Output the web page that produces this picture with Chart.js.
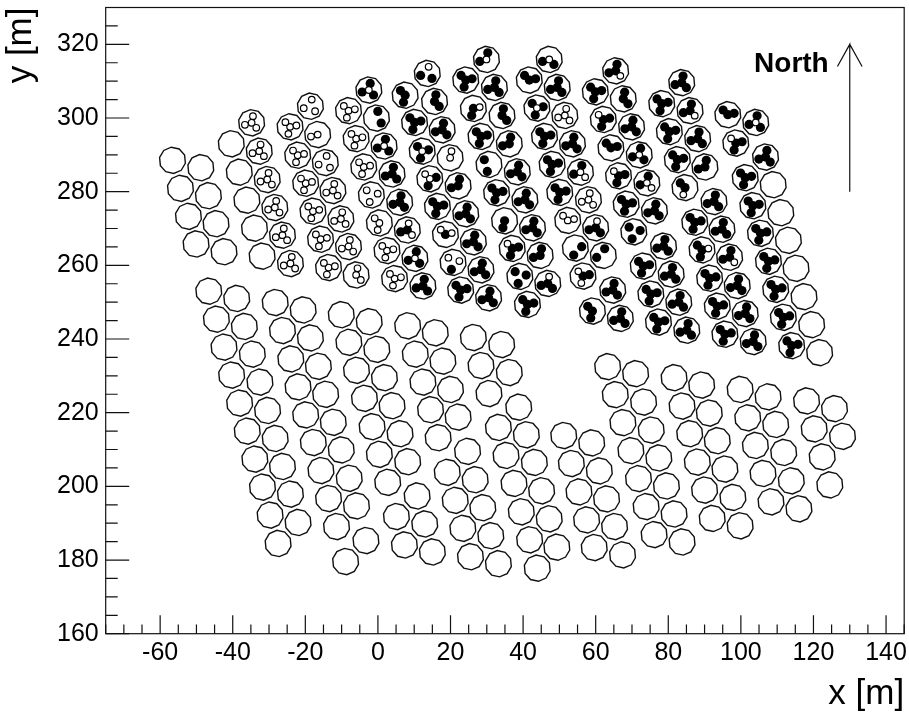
<!DOCTYPE html>
<html><head><meta charset="utf-8">
<style>html,body{margin:0;padding:0;background:#fff}canvas{display:block}</style>
<script src="https://cdn.jsdelivr.net/npm/chart.js@4/dist/chart.umd.min.js"></script>
</head><body>
<canvas id="c" width="909" height="715"></canvas>
<script>
// Tick labels
const xTickLabels = [-60,-40,-20,0,20,40,60,80,100,120,140];
const yTickLabels = [160,180,200,220,240,260,280,300,320];

// Telescopes without any camera marks: [x, y]
const plainUpperLeft = [[-56.6,288.5],[-48.8,286.5],[-54.4,280.9],[-46.7,278.9],[-52.2,273.3],[-44.6,271.3],[-50.1,265.8],[-42.4,263.7],
 [-40.4,293.0],[-38.2,285.3],[-36.1,277.7],[-34.0,270.1],[-31.9,262.5]];
const plainUpperRight = [[108.9,281.9],[111.0,274.3],[113.1,266.8],[115.2,259.2],[117.4,251.5],[119.5,243.9],[121.7,236.3]];
const plainLowerWest = [[-46.6,253.0],[-44.5,245.4],[-42.4,237.8],[-40.3,230.2],[-38.1,222.6],[-36.0,215.0],[-33.9,207.4],[-31.8,199.8],[-29.7,192.2],[-27.5,184.5],
 [-38.9,251.0],[-36.8,243.4],[-34.6,235.9],[-32.5,228.3],[-30.4,220.6],[-28.3,213.0],[-26.3,205.4],[-24.1,197.9],[-22.0,190.2],
 [-28.3,249.9],[-26.3,242.3],[-24.0,234.6],[-22.0,227.0],[-19.9,219.4],[-17.8,211.9],[-15.7,204.3],[-13.6,196.7],[-11.4,189.1],[-8.9,179.6],
 [-20.6,247.9],[-18.6,240.3],[-16.4,232.6],[-14.4,225.0],[-12.3,217.4],[-10.1,209.9],[-7.9,202.2],[-5.9,194.7],[-3.3,185.3],
 [-10.1,246.6],[-8.0,239.1],[-5.9,231.5],[-3.7,223.9],[-1.6,216.2],[0.4,208.7],[2.7,201.1],[5.1,191.8],[7.3,184.1],
 [-2.4,244.7],[-0.3,237.2],[1.8,229.5],[3.9,221.9],[6.1,214.3],[8.2,206.7],[10.8,197.4],[12.9,189.8],[15.0,182.2]];
const plainLowerMiddle = [[8.2,243.6],[10.3,235.9],[12.4,228.3],[14.5,220.8],[16.6,213.2],[19.1,203.8],[21.3,196.2],[23.4,188.6],[25.5,180.9],
 [15.8,241.7],[17.9,234.0],[20.0,226.3],[22.1,218.8],[24.7,209.5],[26.8,201.8],[28.9,194.2],[31.1,186.6],[33.2,179.0],
 [26.3,240.4],[28.4,232.8],[30.6,225.2],[33.2,216.0],[35.3,208.4],[37.5,200.8],[39.5,193.1],[41.8,185.5],[43.9,177.8],
 [34.1,238.5],[36.2,230.9],[38.8,221.5],[40.9,214.0],[43.1,206.5],[45.1,198.8],[47.2,191.2],[49.3,183.5]];
const plainLowerEast = [[51.2,213.8],[58.9,211.8],[53.3,206.2],[61.0,204.2],[55.4,198.5],[63.0,196.6],[57.5,190.9],[65.2,189.1],[59.6,183.4],[67.4,181.4],
 [63.3,232.5],[71.0,230.6],[65.4,224.9],[73.2,222.9],[67.5,217.3],[75.3,215.3],[69.7,209.7],[77.4,207.7],[71.8,202.1],[79.5,200.1],[73.9,194.5],[81.6,192.5],[76.1,186.9],[83.8,184.9],
 [81.6,229.5],[89.2,227.5],[83.8,221.8],[91.3,219.9],[85.9,214.3],[93.5,212.4],[88.0,206.6],[95.6,204.7],[90.0,199.0],[97.8,197.0],[92.1,191.3],[99.8,189.3],
 [99.8,226.3],[107.5,224.3],[101.9,218.6],[109.6,216.8],[104.0,211.1],[111.8,209.2],[106.1,203.5],[113.9,201.5],[108.3,195.8],[116.0,193.9],
 [118.1,223.2],[125.8,221.1],[120.2,215.6],[128.0,213.6],[122.4,208.0],[124.5,200.4]];

// Camera telescopes: [x, y, state]; state = centre, arm 1, arm 2, arm 3
// f = filled, o = open, . = absent
// Group A arms point up / left / lower right
const groupA = [
 [-34.8,298.7,'oooo'],[-32.7,291.0,'oooo'],[-30.5,283.3,'oooo'],[-28.4,275.7,'oooo'],[-26.3,268.2,'oooo'],[-24.1,260.5,'oooo'],
 [-18.6,303.2,'.ooo'],[-16.6,295.5,'o.o.'],[-14.5,287.9,'.ooo'],[-12.4,280.3,'oooo'],[-10.2,272.6,'oooo'],[-8.1,265.1,'oooo'],[-6.0,257.4,'oo.o'],
 [-2.5,307.6,'offf'],[-0.4,300.0,'.f.f'],[1.7,292.4,'offf'],[3.9,284.8,'ffff'],[6.0,277.1,'ffff'],[8.1,269.6,'fofo'],[10.2,261.9,'offf'],[12.4,254.4,'ffff'],
 [13.6,312.1,'.off'],[15.6,304.5,'ff.f'],[17.7,296.8,'ffff'],[19.9,289.2,'oo..'],[22.1,281.6,'fff.'],[24.2,274.0,'ffff'],[26.3,266.4,'ffff'],[28.4,258.8,'ffff'],[30.5,251.2,'ffff'],
 [29.9,315.9,'off.'],[32.1,308.3,'ffff'],[34.2,300.7,'ff.f'],[36.2,293.0,'fff.'],[38.4,285.4,'ffff'],[40.5,277.8,'ffff'],[42.6,270.2,'ffff'],[44.7,262.7,'fff.'],[46.8,255.1,'foff'],
 [47.2,315.9,'o.ff'],[49.4,308.3,'ffff'],[51.5,300.7,'oooo'],[53.6,293.0,'ffff'],[55.8,285.3,'offo'],[58.0,277.8,'oooo'],[60.0,270.2,'foff'],[62.1,262.7,'.ff.'],[64.7,253.3,'ffff'],[66.8,245.6,'ffff'],
 [65.5,312.8,'fffo'],[67.6,305.2,'ff.f'],[69.9,297.6,'ffff'],[72.0,290.0,'offf'],[74.1,282.4,'offo'],[76.2,274.8,'ffff'],[78.7,265.2,'ffff'],[80.8,257.6,'ffff'],[82.9,250.0,'ffff'],[85.1,242.4,'ffff'],
 [83.7,309.6,'ffff'],[86.0,302.0,'fffo'],[88.1,294.4,'ffff'],[90.1,286.7,'fff.'],[92.6,277.3,'ffff'],[94.8,269.8,'ffff'],[96.9,262.2,'fffo'],[99.0,254.5,'ffff'],[101.2,246.9,'ffff'],[103.4,239.3,'ffff'],
 [104.1,298.8,'offf'],[106.8,289.4,'ffff']];
// Group B arms point upper left / right / down
const groupB = [
 [-24.2,297.6,'oooo'],[-22.1,289.9,'oooo'],[-19.9,282.3,'oooo'],[-17.9,274.7,'oooo'],[-15.8,267.1,'oooo'],[-13.6,259.4,'oooo'],
 [-8.1,302.0,'oooo'],[-6.0,294.4,'oooo'],[-3.9,286.7,'oooo'],[-1.8,279.1,'.ooo'],[0.4,271.5,'oo.o'],[2.5,264.0,'oooo'],[4.6,256.4,'oooo'],
 [7.5,306.2,'ff.f'],[10.1,298.8,'ffff'],[12.2,291.0,'offf'],[14.3,283.5,'ooff'],[16.4,276.0,'ffff'],[18.6,268.4,'foo.'],[20.7,260.8,'.oof'],[22.8,253.3,'ffff'],
 [24.2,310.3,'ffff'],[26.3,302.6,'f.of'],[28.4,295.0,'ffff'],[30.6,287.4,'.f.f'],[32.7,279.7,'ffff'],[34.9,272.1,'f..f'],[37.0,264.6,'foff'],[39.1,257.0,'.fff'],[41.2,249.4,'ffff'],
 [41.7,310.3,'fff.'],[43.8,302.7,'offf'],[45.9,295.0,'ffff'],[48.0,287.4,'ffff'],[50.1,279.8,'ffff'],[52.3,272.2,'ooo.'],[54.4,264.7,'..ff'],[56.5,257.1,'fofo'],[59.1,247.6,'ff.f'],
 [59.9,307.1,'ffff'],[62.1,299.6,'foff'],[64.2,291.9,'fff.'],[66.3,284.3,'foff'],[68.4,276.6,'ffff'],[70.5,269.1,'.fff'],[73.1,259.8,'ffff'],[75.2,252.2,'ffff'],[77.3,244.6,'ffff'],
 [78.2,303.9,'ffff'],[80.3,296.3,'ffff'],[82.5,288.7,'ffff'],[84.6,281.1,'ff.o'],[87.3,271.7,'ffff'],[89.3,264.2,'ffof'],[91.4,256.5,'ffff'],[93.5,248.9,'ffff'],[95.6,241.3,'ffff'],
 [96.4,300.9,'fff.'],[98.6,293.2,'foff'],[101.2,283.8,'ffff'],[103.3,276.2,'ffff'],[105.4,268.7,'ffff'],[107.6,261.1,'ffff'],[109.6,253.5,'ffff'],[111.7,245.9,'ffff'],[114.0,238.2,'ffff']];

// Arm displacement of each group in metres
const armsA = [[0,0],[0.37,1.8],[-1.84,-0.54],[1.29,-1.36]];
const armsB = [[0,0],[-1.29,1.27],[1.74,0.36],[-0.46,-1.9]];

// North arrow (x, y in metres)
const arrowX = [130,130,126.6,130,133.4];
const arrowY = [280,320,314,320,314];
const northLabel = {text:'North', x:124.2, y:314.6};

const FONT = '"Liberation Sans", Arial, sans-serif';
const INK = '#111';
const POLY_SIDES = 10;

const telescopes = [...plainUpperLeft,...plainUpperRight,...plainLowerWest,...plainLowerMiddle,...plainLowerEast,...groupA,...groupB]
  .map(t=>({x:t[0],y:t[1]}));
const filled = [], open = [];
function addMarks(group, arms){
  group.forEach(t=>{
    [...t[2]].forEach((ch,i)=>{
      if(ch==='.') return;
      (ch==='f'?filled:open).push({x:t[0]+arms[i][0], y:t[1]+arms[i][1]});
    });
  });
}
addMarks(groupA, armsA);
addMarks(groupB, armsB);

function multiples(min,max,step){const r=[];for(let v=Math.ceil(min/step)*step;v<=max;v+=step)r.push(v);return r;}

const framePlugin = {
  id:'frame',
  beforeDatasetsDraw(chart){
    // each telescope point is outlined as a polygon at the pixel the scales gave it
    const {ctx} = chart;
    const meta = chart.getDatasetMeta(0);
    ctx.save();
    ctx.strokeStyle = INK; ctx.lineWidth = 1.4; ctx.lineJoin = 'miter';
    meta.data.forEach(pt=>{
      const r = pt.options.radius;
      ctx.beginPath();
      for(let i=0;i<POLY_SIDES;i++){
        const a = Math.PI*2*i/POLY_SIDES + 0.22;
        const px = pt.x+r*Math.cos(a), py = pt.y+r*Math.sin(a);
        i?ctx.lineTo(px,py):ctx.moveTo(px,py);
      }
      ctx.closePath();
      ctx.stroke();
    });
    ctx.restore();
  },
  afterDatasetsDraw(chart){
    const {ctx,chartArea:a,scales:{x,y}} = chart;
    ctx.save();
    ctx.strokeStyle = INK; ctx.lineWidth = 1.2;
    ctx.strokeRect(a.left,a.top,a.right-a.left,a.bottom-a.top);
    ctx.beginPath();
    multiples(x.min,x.max,5).forEach(v=>{
      const px = x.getPixelForValue(v), len = v%20===0?18.5:9.2;
      ctx.moveTo(px,a.bottom); ctx.lineTo(px,a.bottom-len);
    });
    multiples(y.min,y.max,5).forEach(v=>{
      const py = y.getPixelForValue(v), len = v%20===0?23.5:12;
      ctx.moveTo(a.left,py); ctx.lineTo(a.left+len,py);
    });
    ctx.stroke();
    ctx.fillStyle = '#000';
    ctx.font = 'bold 28px '+FONT;
    ctx.textAlign = 'right'; ctx.textBaseline = 'middle';
    ctx.fillText(northLabel.text, x.getPixelForValue(northLabel.x), y.getPixelForValue(northLabel.y));
    ctx.restore();
  }
};
function noPadding(s){s.paddingTop=0;s.paddingBottom=0;s.paddingLeft=0;s.paddingRight=0;}

new Chart(document.getElementById('c'),{
  type:'scatter',
  plugins:[framePlugin],
  data:{datasets:[
    {label:'Telescopes',data:telescopes,pointStyle:'circle',pointRadius:13.2,pointBackgroundColor:'rgba(0,0,0,0)',pointBorderColor:'rgba(0,0,0,0)',pointBorderWidth:0,order:4},
    {label:'Filled',data:filled,pointStyle:'circle',pointRadius:4.6,pointBackgroundColor:'#000',pointBorderColor:'#000',pointBorderWidth:0,order:3},
    {label:'Open',data:open,pointStyle:'circle',pointRadius:3.3,pointBackgroundColor:'#fff',pointBorderColor:'#000',pointBorderWidth:1.2,order:2},
    {label:'North arrow',data:arrowX.map((v,i)=>({x:v,y:arrowY[i]})),showLine:true,pointRadius:0,borderColor:INK,borderWidth:1.2,fill:false,tension:0,order:1}
  ]},
  options:{
    responsive:false,animation:false,events:[],
    layout:{autoPadding:false,padding:{top:7.5,right:4.8,left:0,bottom:0}},
    plugins:{legend:{display:false},tooltip:{enabled:false},title:{display:false}},
    scales:{
      x:{type:'linear',min:-75,max:145,
        grid:{display:false,drawTicks:false},border:{display:false},
        afterBuildTicks:s=>{s.ticks=xTickLabels.map(v=>({value:v}));},
        afterFit:s=>{s.height=81.3;noPadding(s);},
        ticks:{autoSkip:false,maxRotation:0,padding:4,color:'#000',font:{family:FONT,size:25},callback:v=>String(v)},
        title:{display:true,text:'x [m]',align:'end',color:'#000',font:{family:FONT,size:35},padding:{top:0,bottom:0}}
      },
      y:{type:'linear',min:160,max:330,
        grid:{display:false,drawTicks:false},border:{display:false},
        afterBuildTicks:s=>{s.ticks=yTickLabels.map(v=>({value:v}));},
        afterFit:s=>{s.width=105.7;noPadding(s);},
        ticks:{autoSkip:false,padding:7,color:'#000',font:{family:FONT,size:25},callback:v=>String(v)},
        title:{display:true,text:'y [m]',align:'end',color:'#000',font:{family:FONT,size:35},padding:{top:0,bottom:0}}
      }
    }
  }
});
</script>
</body></html>
